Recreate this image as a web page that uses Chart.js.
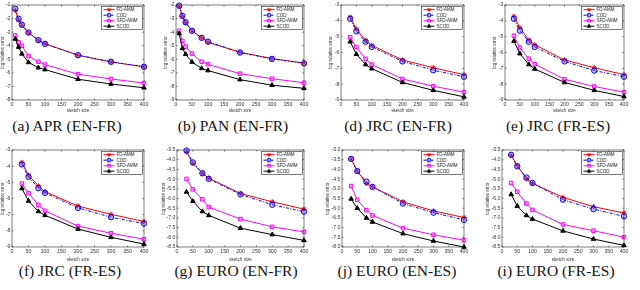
<!DOCTYPE html>
<html>
<head>
<meta charset="utf-8">
<script src="https://cdn.jsdelivr.net/npm/chart.js@4.4.0/dist/chart.umd.min.js"></script>
<style>
body { margin: 0; background: #fff; width: 640px; height: 290px; overflow: hidden; position: relative; }
.panel { position: absolute; width: 160px; }
.panel canvas { display: block; }
.cap { position: absolute; white-space: nowrap; font-family: "Liberation Serif", "Times New Roman", Times, "DejaVu Serif", serif; font-size: 15.5px; color: #111; transform: translate(-50%, -50%); }
</style>
</head>
<body>
<script>
const seriesNames = ['FD-AMM', 'COD', 'SFD-AMM', 'SCOD'];
const sizesFull = [10, 20, 30, 50, 80, 100, 200, 300, 400];
const sizesShort = [30, 50, 80, 100, 200, 300, 400];

// (a) APR (EN-FR)
const aprFd   = [-1.4, -2.1, -2.5, -3.05, -3.6, -3.85, -4.7, -5.2, -5.55];
const aprCod  = [-1.28, -2.02, -2.45, -3.03, -3.59, -3.86, -4.7, -5.18, -5.55];
const aprSfd  = [-3.24, -3.75, -4.0, -4.77, -5.18, -5.39, -6.1, -6.45, -6.75];
const aprScod = [-3.5, -4.1, -4.6, -5.23, -5.62, -5.76, -6.47, -6.82, -7.1];

// (b) PAN (EN-FR)
const panFd   = [-2.1, -2.85, -3.3, -3.9, -4.42, -4.75, -5.48, -5.95, -6.27];
const panCod  = [-2.05, -2.8, -3.27, -3.9, -4.42, -4.7, -5.5, -5.97, -6.3];
const panSfd  = [-3.9, -4.65, -5.07, -5.58, -6.18, -6.37, -7.06, -7.43, -7.73];
const panScod = [-4.1, -5.19, -5.63, -6.2, -6.67, -6.83, -7.5, -7.91, -8.14];

// (d) JRC (EN-FR)
const jrcEnFrFd   = [-3.77, -4.52, -5.24, -5.55, -6.47, -6.96, -7.4];
const jrcEnFrCod  = [-3.87, -4.66, -5.32, -5.65, -6.56, -7.12, -7.53];
const jrcEnFrSfd  = [-5.04, -5.65, -6.4, -6.76, -7.67, -8.13, -8.5];
const jrcEnFrScod = [-5.32, -6.11, -6.76, -7.02, -7.89, -8.39, -8.8];

// (e) JRC (FR-ES)
const jrcFrEsFd   = [-3.71, -4.43, -5.22, -5.51, -6.47, -6.96, -7.4];
const jrcFrEsCod  = [-3.87, -4.62, -5.32, -5.65, -6.56, -7.14, -7.53];
const jrcFrEsSfd  = [-4.94, -5.69, -6.39, -6.74, -7.69, -8.15, -8.5];
const jrcFrEsScod = [-5.28, -6.07, -6.76, -7.04, -7.89, -8.39, -8.78];

// (f) JRC (FR-ES)
const jrcFFd   = [-3.77, -4.56, -5.22, -5.57, -6.47, -6.98, -7.42];
const jrcFCod  = [-3.89, -4.66, -5.36, -5.65, -6.58, -7.16, -7.55];
const jrcFSfd  = [-5.08, -5.67, -6.4, -6.76, -7.71, -8.15, -8.52];
const jrcFScod = [-5.38, -6.15, -6.8, -7.04, -7.89, -8.4, -8.82];

// (g) EURO (EN-FR)
const euroEnFrFd   = [-3.6, -4.19, -4.7, -4.95, -5.74, -6.17, -6.55];
const euroEnFrCod  = [-3.53, -4.14, -4.7, -4.99, -5.79, -6.32, -6.68];
const euroEnFrSfd  = [-4.99, -5.53, -6.04, -6.44, -7.06, -7.46, -7.72];
const euroEnFrScod = [-5.66, -6.14, -6.67, -6.87, -7.53, -7.86, -8.16];

// (j) EURO (EN-ES)
const euroEnEsFd   = [-3.46, -4.09, -4.73, -4.9, -5.67, -6.14, -6.48];
const euroEnEsCod  = [-3.46, -4.09, -4.63, -4.9, -5.76, -6.23, -6.6];
const euroEnEsSfd  = [-4.86, -5.57, -6.1, -6.37, -7.03, -7.37, -7.65];
const euroEnEsScod = [-5.52, -6.0, -6.5, -6.71, -7.31, -7.69, -8.0];

// (i) EURO (FR-ES)
const euroFrEsFd   = [-3.78, -4.3, -4.99, -5.22, -5.94, -6.42, -6.75];
const euroFrEsCod  = [-3.75, -4.34, -4.92, -5.2, -6.06, -6.55, -6.92];
const euroFrEsSfd  = [-5.2, -5.65, -6.26, -6.59, -7.34, -7.66, -7.99];
const euroFrEsScod = [-5.79, -6.39, -6.87, -7.06, -7.67, -8.09, -8.42];

// y-axis ranges per panel: [min, max, step]
const panels = [
    { cap: '(a) APR (EN-FR)',  xs: sizesFull,  ys: [aprFd, aprCod, aprSfd, aprScod],                 y: [-8, -1, 1] },
    { cap: '(b) PAN (EN-FR)',  xs: sizesFull,  ys: [panFd, panCod, panSfd, panScod],                 y: [-9, -2, 1] },
    { cap: '(d) JRC (EN-FR)',  xs: sizesShort, ys: [jrcEnFrFd, jrcEnFrCod, jrcEnFrSfd, jrcEnFrScod], y: [-9, -3, 1] },
    { cap: '(e) JRC (FR-ES)',  xs: sizesShort, ys: [jrcFrEsFd, jrcFrEsCod, jrcFrEsSfd, jrcFrEsScod], y: [-9, -3, 1] },
    { cap: '(f) JRC (FR-ES)',  xs: sizesShort, ys: [jrcFFd, jrcFCod, jrcFSfd, jrcFScod],             y: [-9, -3, 1] },
    { cap: '(g) EURO (EN-FR)', xs: sizesShort, ys: [euroEnFrFd, euroEnFrCod, euroEnFrSfd, euroEnFrScod], y: [-8.5, -3.5, 0.5] },
    { cap: '(j) EURO (EN-ES)', xs: sizesShort, ys: [euroEnEsFd, euroEnEsCod, euroEnEsSfd, euroEnEsScod], y: [-8, -3, 0.5] },
    { cap: '(i) EURO (FR-ES)', xs: sizesShort, ys: [euroFrEsFd, euroFrEsCod, euroFrEsSfd, euroFrEsScod], y: [-8.5, -3.5, 0.5] }
];

// layout per panel: plot left edge, y-title x, caption centre x (all relative to panel)
const layout = [
    { left: 12, titleX: 3,   capX: 67 },
    { left: 16, titleX: 6,   capX: 73 },
    { left: 21, titleX: 11,  capX: 78 },
    { left: 25, titleX: 15,  capX: 78 },
    { left: 12, titleX: 3,   capX: 70 },
    { left: 17, titleX: 3.5, capX: 76 },
    { left: 22, titleX: 8,   capX: 77 },
    { left: 22, titleX: 8,   capX: 76 }
];

const styles = [
    { color: '#ff0000', pointStyle: 'star',     radius: 2.6, fill: 'rgba(0,0,0,0)',          dash: [] },
    { color: '#0000ff', pointStyle: 'circle',   radius: 2.7, fill: 'rgba(110,110,255,0.35)', dash: [3, 1.5, 1, 1.5] },
    { color: '#ff00ff', pointStyle: 'rect',     radius: 2.5, fill: 'rgba(255,140,255,0.5)',  dash: [] },
    { color: '#000000', pointStyle: 'triangle', radius: 2.6, fill: '#000000',                dash: [] }
];

const framePlugin = {
    id: 'frame',
    afterDraw(chart) {
        const { ctx, chartArea: a, scales } = chart;
        ctx.save();
        ctx.strokeStyle = '#262626';
        ctx.lineWidth = 0.6;
        ctx.strokeRect(a.left, a.top, a.right - a.left, a.bottom - a.top);
        ctx.beginPath();
        scales.x.ticks.forEach(t => {
            const px = scales.x.getPixelForValue(t.value);
            ctx.moveTo(px, a.bottom); ctx.lineTo(px, a.bottom - 1.5);
            ctx.moveTo(px, a.top); ctx.lineTo(px, a.top + 1.5);
        });
        scales.y.ticks.forEach(t => {
            const py = scales.y.getPixelForValue(t.value);
            ctx.moveTo(a.left, py); ctx.lineTo(a.left + 1.5, py);
            ctx.moveTo(a.right, py); ctx.lineTo(a.right - 1.5, py);
        });
        ctx.stroke();

        // legend box, top-right inside plot
        const bw = 41, bh = 23;
        const bx = a.right - bw - 1.5, by = a.top + 1.5;
        ctx.fillStyle = '#fff';
        ctx.fillRect(bx, by, bw, bh);
        ctx.strokeRect(bx, by, bw, bh);
        ctx.font = '4.5px "Liberation Sans", Arial, sans-serif';
        ctx.textBaseline = 'middle';
        seriesNames.forEach((name, i) => {
            const s = styles[i];
            const ly = by + 3.2 + i * 5.5;
            ctx.strokeStyle = s.color;
            ctx.lineWidth = 1;
            ctx.setLineDash(s.dash);
            ctx.beginPath();
            ctx.moveTo(bx + 2, ly); ctx.lineTo(bx + 13, ly);
            ctx.stroke();
            ctx.setLineDash([]);
            ctx.fillStyle = s.fill;
            Chart.helpers.drawPoint(ctx, { pointStyle: s.pointStyle, radius: 1.9, borderWidth: 0.9, rotation: 0 }, bx + 7.5, ly);
            ctx.fillStyle = '#222';
            ctx.fillText(name, bx + 15, ly + 0.3);
        });
        ctx.restore();
    }
};

function makePanel(p, idx) {
    const row = idx < 4 ? 0 : 1;
    const col = idx % 4;
    const lay = layout[idx];
    const top = row === 0 ? 1 : 5;
    const plotBottom = row === 0 ? 100 : 102;
    const h = row === 0 ? 113 : 117;

    const div = document.createElement('div');
    div.className = 'panel';
    div.style.left = (col * 160) + 'px';
    div.style.top = (row * 145) + 'px';
    const canvas = document.createElement('canvas');
    canvas.width = 160;
    canvas.height = h;
    div.appendChild(canvas);
    const cap = document.createElement('div');
    cap.className = 'cap';
    cap.textContent = p.cap;
    cap.style.left = lay.capX + 'px';
    cap.style.top = '126px';
    div.appendChild(cap);
    document.body.appendChild(div);

    const titleFont = { family: '"Liberation Sans", Arial, sans-serif', size: 4.5 };
    const padLeft = lay.titleX - 2.7;
    const tickFont = { family: '"Liberation Sans", Arial, sans-serif', size: 5.2 };

    new Chart(canvas, {
        type: 'line',
        data: {
            datasets: p.ys.map((vals, i) => ({
                label: seriesNames[i],
                data: p.xs.map((x, j) => ({ x: x, y: vals[j] })),
                borderColor: styles[i].color,
                backgroundColor: styles[i].fill,
                pointBorderColor: styles[i].color,
                pointBackgroundColor: styles[i].fill,
                pointStyle: styles[i].pointStyle,
                pointRadius: styles[i].radius,
                pointBorderWidth: 1,
                borderWidth: 1,
                borderDash: styles[i].dash,
                tension: 0,
                clip: false,
                order: 4 - i
            }))
        },
        options: {
            responsive: false,
            animation: false,
            events: [],
            layout: { padding: { left: padLeft, right: 16, top: top, bottom: 0 } },
            plugins: { legend: { display: false }, tooltip: { enabled: false } },
            scales: {
                x: {
                    type: 'linear',
                    min: 0,
                    max: 400,
                    ticks: { stepSize: 50, font: tickFont, color: '#333', padding: 1.5, maxRotation: 0, autoSkip: false },
                    grid: { display: false, drawTicks: false },
                    border: { display: false },
                    title: { display: true, text: 'sketch size', font: titleFont, color: '#333', padding: 0 },
                    afterFit(scale) { scale.height = h - plotBottom; }
                },
                y: {
                    min: p.y[0],
                    max: p.y[1],
                    ticks: { stepSize: p.y[2], font: tickFont, color: '#333', padding: 1.5, autoSkip: false },
                    grid: { display: false, drawTicks: false },
                    border: { display: false },
                    title: { display: true, text: 'log relative error', font: titleFont, color: '#333', padding: 0 },
                    afterFit(scale) { scale.width = lay.left - padLeft; }
                }
            }
        },
        plugins: [framePlugin]
    });
}

panels.forEach(makePanel);
</script>
</body>
</html>
